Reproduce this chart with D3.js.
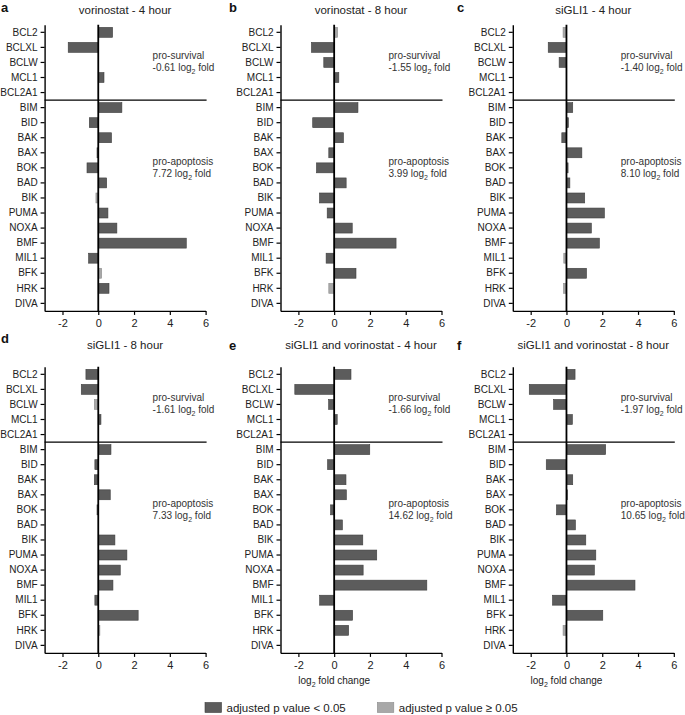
<!DOCTYPE html>
<html><head><meta charset="utf-8">
<script src="https://cdn.jsdelivr.net/npm/d3@7"></script>
<style>body{margin:0;background:#fff}svg{display:block;font-family:"Liberation Sans",Arial,sans-serif}</style>
</head><body><svg id="chart" width="685" height="715"></svg>
<script>
const categories = ["BCL2","BCLXL","BCLW","MCL1","BCL2A1","BIM","BID","BAK","BAX","BOK","BAD","BIK","PUMA","NOXA","BMF","MIL1","BFK","HRK","DIVA"];
const panelLetters = ["a","b","c","d","e","f"];
const panelTitles = ["vorinostat - 4 hour","vorinostat - 8 hour","siGLI1 - 4 hour","siGLI1 - 8 hour","siGLI1 and vorinostat - 4 hour","siGLI1 and vorinostat - 8 hour"];
const survivalFold = ["-0.61","-1.55","-1.40","-1.61","-1.66","-1.97"];
const apoptosisFold = ["7.72","3.99","8.10","7.33","14.62","10.65"];
const xTicks = [-2,0,2,4,6];
const xDomain = [-3,6];

const vorinostat4h = [0.80,-1.68,0,0.32,0,1.32,-0.50,0.74,-0.07,-0.63,0.47,-0.13,0.54,1.04,4.92,-0.54,0.19,0.60,0];
const vorinostat8h = [0.19,-1.27,-0.58,0.26,0,1.33,-1.20,0.52,-0.30,-0.99,0.67,-0.82,-0.39,1.01,3.46,-0.45,1.22,-0.30,0];
const siGLI1_4h   = [-0.19,-1.02,-0.41,0,0,0.35,0.11,-0.26,0.86,0.09,0.19,1.02,2.12,1.39,1.84,-0.15,1.12,-0.17,0];
const siGLI1_8h   = [-0.69,-0.95,-0.22,0.15,0,0.71,-0.19,-0.22,0.67,-0.07,0,0.93,1.60,1.23,0.82,-0.19,2.23,0.09,0];
const combo4h     = [0.94,-2.20,-0.31,0.17,0,1.99,-0.37,0.66,0.68,-0.20,0.46,1.60,2.38,1.62,5.18,-0.81,1.03,0.81,0];
const combo8h     = [0.48,-2.08,-0.72,0.33,0,2.19,-1.13,0.35,0.05,-0.56,0.50,1.08,1.64,1.56,3.83,-0.78,2.03,-0.19,0];

// genes whose adjusted p value >= 0.05 in each panel
const notSig4hV = ["BIK","BFK"];
const notSig8hV = ["BCL2","HRK"];
const notSig4hS = ["BCL2","MIL1","HRK"];
const notSig8hS = ["BCLW","HRK"];
const notSig4hC = [];
const notSig8hC = ["HRK"];

const legendLabels = ["adjusted p value < 0.05","adjusted p value \u2265 0.05"];

const seriesList = [vorinostat4h,vorinostat8h,siGLI1_4h,siGLI1_8h,combo4h,combo8h];
const notSigList = [notSig4hV,notSig8hV,notSig4hS,notSig8hS,notSig4hC,notSig8hC];

const DARK = "#5c5c5c", DARK_S = "#3e3e3e", LIGHT = "#a8a8a8", LIGHT_S = "#8c8c8c";
const svg = d3.select("#chart");
const colX = [44.6, 280.5, 512.8];
const plotW = 161;
const rowTop = [24.8, 366.8];
const plotH = 286.1;

seriesList.forEach((vals, i) => {
  const col = i % 3, row = Math.floor(i / 3);
  const left = colX[col], top = rowTop[row];
  const x = d3.scaleLinear().domain(xDomain).range([left, left + plotW]);
  const y = d3.scaleBand().domain(categories).range([top, top + plotH]).paddingInner(0.34).paddingOuter(0.17);
  const g = svg.append("g");
  const data = categories.map((c, k) => ({cat: c, v: vals[k], ns: notSigList[i].includes(c)}));

  // bars
  g.selectAll("rect.bar").data(data.filter(d => d.v !== 0)).join("rect")
    .attr("class","bar")
    .attr("x", d => x(Math.min(0, d.v)))
    .attr("width", d => Math.abs(x(d.v) - x(0)))
    .attr("y", d => y(d.cat))
    .attr("height", y.bandwidth())
    .attr("fill", d => d.ns ? LIGHT : DARK)
    .attr("stroke", d => d.ns ? LIGHT_S : DARK_S)
    .attr("stroke-width", 0.6);

  // y axis
  const ya = g.append("g").attr("transform", `translate(${left},0)`)
    .call(d3.axisLeft(y).tickSize(4).tickSizeOuter(0).tickPadding(3));
  ya.select(".domain").attr("stroke","#000").attr("stroke-width",1.4);
  ya.selectAll(".tick line").attr("stroke","#000").attr("stroke-width",1.2);
  ya.selectAll("text").attr("font-size",10).attr("fill","#222").attr("font-family","Liberation Sans, Arial, sans-serif");

  // x axis
  const xa = g.append("g").attr("transform", `translate(0,${top + plotH})`)
    .call(d3.axisBottom(x).tickValues(xTicks).tickSize(4).tickSizeOuter(0).tickPadding(4).tickFormat(d3.format("d")));
  xa.select(".domain").attr("stroke","#000").attr("stroke-width",1.4);
  xa.selectAll(".tick line").attr("stroke","#000").attr("stroke-width",1.2);
  xa.selectAll("text").attr("font-size",11).attr("fill","#222").attr("font-family","Liberation Sans, Arial, sans-serif")
    .text(d => d < 0 ? "-" + Math.abs(d) : d);

  // zero line
  g.append("line").attr("x1", x(0)).attr("x2", x(0)).attr("y1", top).attr("y2", top + plotH)
    .attr("stroke","#000").attr("stroke-width",1.8);

  // separator between pro-survival and pro-apoptosis
  const sepY = y("BIM") - (y.step() - y.bandwidth()) / 2;
  g.append("line").attr("x1", left).attr("x2", x(6) + 1).attr("y1", sepY).attr("y2", sepY)
    .attr("stroke","#000").attr("stroke-width",1.4);

  // title and letter
  g.append("text").attr("x", (x(-3) + x(6)) / 2).attr("y", row === 0 ? 14 : 349)
    .attr("text-anchor","middle").attr("font-size",11.5).attr("fill","#222").text(panelTitles[i]);
  const letterX = [1, 229, 457][col];
  const letterY = row === 0 ? 12 : (col === 0 ? 343 : 350);
  g.append("text").attr("x", letterX).attr("y", letterY).attr("font-size",13).attr("font-weight","bold")
    .attr("fill","#111").text(panelLetters[i]);

  // annotations
  const ax = left + 108;
  const ann = (yy, lines) => {
    g.append("text").attr("x", ax).attr("y", yy).attr("font-size",10).attr("fill","#333").text(lines[0]);
    const t2 = g.append("text").attr("x", ax).attr("y", yy + 12).attr("font-size",10).attr("fill","#333");
    t2.append("tspan").text(lines[1] + " log");
    t2.append("tspan").attr("font-size",7).attr("dy",3).text("2");
    t2.append("tspan").attr("dy",-3).text(" fold");
  };
  ann(top + 34, ["pro-survival", survivalFold[i]]);
  ann(top + 140, ["pro-apoptosis", apoptosisFold[i]]);

  // x axis label for bottom row e, f
  if (row === 1 && col > 0) {
    const lt = g.append("text").attr("x", x(0)).attr("y", top + plotH + 31)
      .attr("text-anchor","middle").attr("font-size",10).attr("fill","#222");
    lt.append("tspan").text("log");
    lt.append("tspan").attr("font-size",7).attr("dy",3).text("2");
    lt.append("tspan").attr("dy",-3).text(" fold change");
  }
});

// legend
const legX = [205, 377.3];
const legFill = [[DARK, DARK_S],[LIGHT, LIGHT_S]];
legendLabels.forEach((lab, k) => {
  svg.append("rect").attr("x", legX[k]).attr("y", 702.5).attr("width", 16.5).attr("height", 10)
    .attr("fill", legFill[k][0]).attr("stroke", legFill[k][1]).attr("stroke-width",0.6);
  svg.append("text").attr("x", legX[k] + 21.5).attr("y", 712).attr("font-size",11.5).attr("fill","#222").text(lab);
});
</script></body></html>
